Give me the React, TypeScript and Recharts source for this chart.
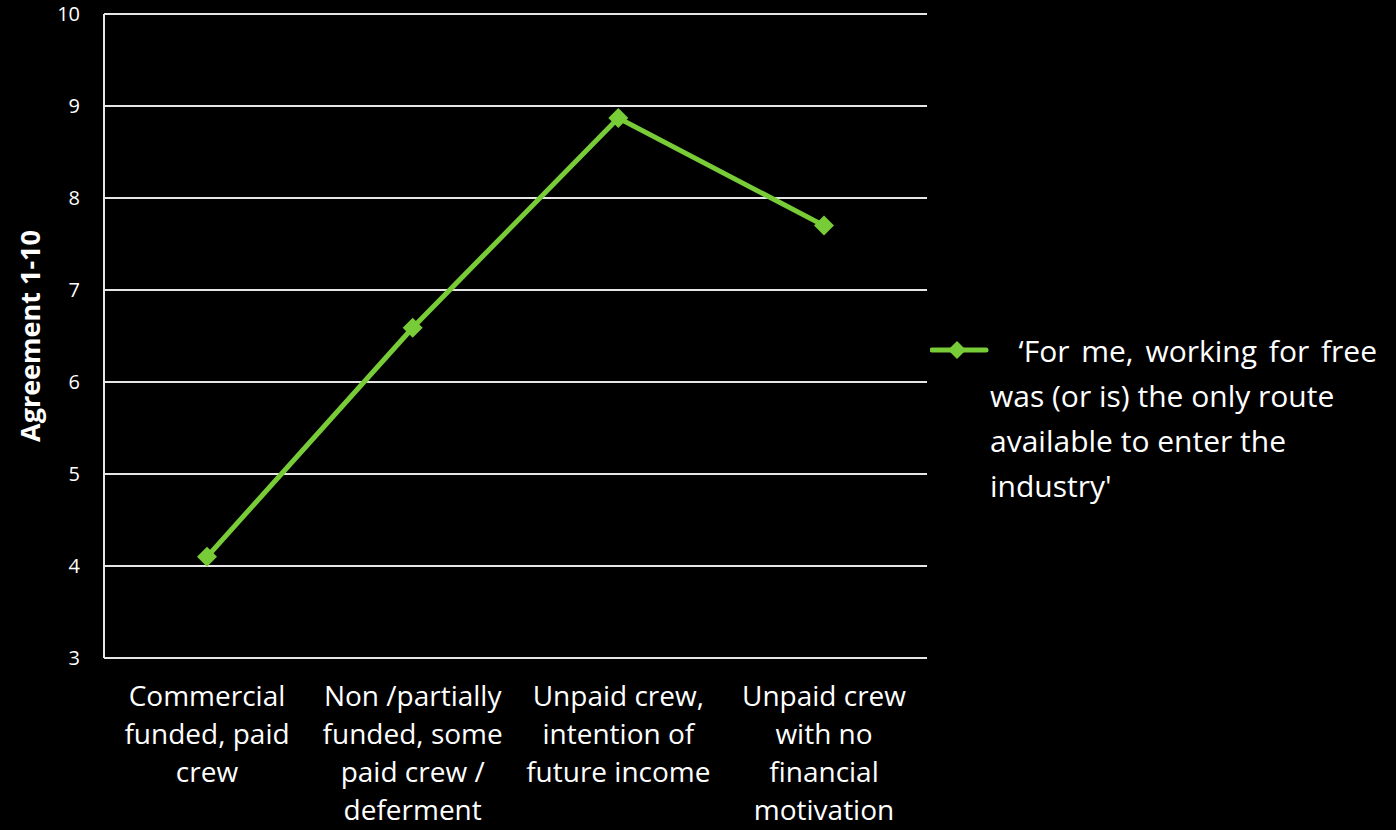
import React from 'react';
import { LineChart, Line, XAxis, YAxis, CartesianGrid } from 'recharts';

const categories = [
  'Commercial funded, paid crew',
  'Non /partially funded, some paid crew / deferment',
  'Unpaid crew, intention of future income',
  'Unpaid crew with no financial motivation',
];
const categoryLines = [
  ['Commercial', 'funded, paid', 'crew'],
  ['Non /partially', 'funded, some', 'paid crew /', 'deferment'],
  ['Unpaid crew,', 'intention of', 'future income'],
  ['Unpaid crew', 'with no', 'financial', 'motivation'],
];
const agreement = [4.1, 6.59, 8.87, 7.7];
const yTicks = [3, 4, 5, 6, 7, 8, 9, 10];
const legendLines = ["  ‘For me, working for free", 'was (or is) the only route', 'available to enter the', "industry'"];

const data = categories.map((name, i) => ({ name, value: agreement[i] }));

const GREEN = '#78cc38';
const FONT = '"Open Sans", sans-serif';

const Diamond = (props: any) => {
  const { cx, cy } = props;
  if (cx == null || cy == null) return null;
  const r = 10;
  return <path d={`M${cx},${cy - r}L${cx + r},${cy}L${cx},${cy + r}L${cx - r},${cy}Z`} fill={GREEN} />;
};

const XTick = (props: any) => {
  const { x, y, index } = props;
  const lines = categoryLines[index] || [];
  return (
    <text x={x} y={y} textAnchor="middle" fill="#fff" fontSize={28} fontFamily={FONT}>
      {lines.map((l, i) => (
        <tspan key={i} x={x} dy={i === 0 ? 40 : 38}>{l}</tspan>
      ))}
    </text>
  );
};

const YTick = (props: any) => {
  const { y, payload } = props;
  return (
    <text x={80} y={y + 7} textAnchor="end" fill="#fff" fontSize={20} fontFamily={FONT}>
      {payload.value}
    </text>
  );
};

export default function App() {
  return (
    <div style={{ position: 'absolute', left: 0, top: 0, width: 1396, height: 830, background: '#000' }}>
      <LineChart width={1396} height={830} data={data} margin={{ top: 14, right: 469, bottom: 0, left: 0 }}>
        <CartesianGrid horizontal vertical={false} stroke="#e6e6e6" strokeWidth={2} />
        <XAxis
          dataKey="name"
          tick={<XTick />}
          tickLine={false}
          axisLine={{ stroke: '#e6e6e6', strokeWidth: 2 }}
          interval={0}
          height={172}
          padding={{ left: 103, right: 103 }}
        />
        <YAxis
          domain={[3, 10]}
          ticks={yTicks}
          width={104}
          tick={<YTick />}
          tickLine={false}
          axisLine={{ stroke: '#e6e6e6', strokeWidth: 2 }}
          label={{
            value: 'Agreement 1-10',
            angle: -90,
            position: 'insideLeft',
            offset: 0,
            dx: 30,
            style: { fill: '#fff', fontSize: 27, fontWeight: 'bold', fontFamily: FONT, textAnchor: 'middle' },
          }}
        />
        <Line
          dataKey="value"
          stroke={GREEN}
          strokeWidth={5}
          dot={<Diamond />}
          activeDot={false}
          isAnimationActive={false}
        />
      </LineChart>
      <div style={{ position: 'absolute', left: 930, top: 333, width: 466, height: 190, fontFamily: FONT, color: '#fff', fontSize: 30 }}>
        <svg width={60} height={20} style={{ position: 'absolute', left: 0, top: 7 }}>
          <line x1={2} y1={10} x2={56} y2={10} stroke={GREEN} strokeWidth={5} strokeLinecap="round" />
          <path d="M27,1L36,10L27,19L18,10Z" fill={GREEN} />
        </svg>
        {legendLines.map((l, i) => (
          <div key={i} style={{ position: 'absolute', left: i === 0 ? 65 : 60, top: i * 45 - 2, whiteSpace: 'pre', lineHeight: '40px', wordSpacing: i === 0 ? 4 : 0 }}>
            {l}
          </div>
        ))}
      </div>
    </div>
  );
}
